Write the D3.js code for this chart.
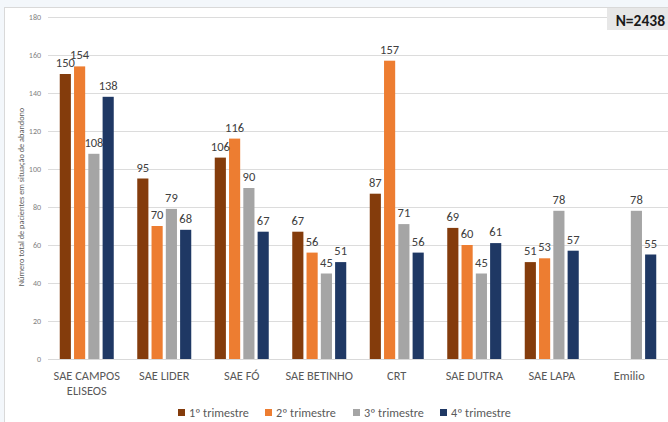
<!DOCTYPE html>
<html><head><meta charset="utf-8">
<script src="https://cdn.jsdelivr.net/npm/d3@7"></script>
<style>
html,body{margin:0;padding:0;background:#f3f7fb;}
svg{display:block;}
</style></head>
<body>
<svg id="chart" width="668" height="422"></svg>
<script>
const categories = [["SAE CAMPOS","ELISEOS"],["SAE LIDER"],["SAE FÓ"],["SAE BETINHO"],["CRT"],["SAE DUTRA"],["SAE LAPA"],["Emilio"]];
const series = ["1º trimestre","2º trimestre","3º trimestre","4º trimestre"];
const q1 = [150, 95, 106, 67, 87, 69, 51, null];
const q2 = [154, 70, 116, 56, 157, 60, 53, null];
const q3 = [108, 79, 90, 45, 71, 45, 78, 78];
const q4 = [138, 68, 67, 51, 56, 61, 57, 55];
const yTicks = [0,20,40,60,80,100,120,140,160,180];
const colors = ["#843C0C","#ED7D31","#A5A5A5","#1F3864"];
const yTitle = "Número total de pacientes em situação de abandono";
const nLabel = "N=2438";

const values = [q1,q2,q3,q4];
const svg = d3.select("#chart");
const font = "Calibri, Carlito, 'Open Sans', 'Noto Sans', sans-serif";

// chart area background
svg.append("rect").attr("x",4.5).attr("y",7.5).attr("width",670).attr("height",420)
  .attr("fill","#ffffff").attr("stroke","#d9d9d9");

const catKeys = categories.map(c=>c.join(" "));
const x0 = d3.scaleBand().domain(catKeys).range([48,668]).padding(0);
const x1 = d3.scaleBand().domain(series).range([11.75, x0.bandwidth()-11.75]).paddingInner(0.22).paddingOuter(0);
const y = d3.scaleLinear().domain([0,180]).range([359,17]);

// gridlines
svg.append("g").selectAll("line").data(yTicks).join("line")
  .attr("x1",48).attr("x2",668)
  .attr("y1",d=>Math.round(y(d))+0.5).attr("y2",d=>Math.round(y(d))+0.5)
  .attr("stroke","#dcdcdc").attr("stroke-width",1);

// y axis labels
const yAxis = d3.axisLeft(y).tickValues(yTicks).tickSize(0).tickPadding(0);
const ya = svg.append("g").attr("transform","translate(41,0)").call(yAxis);
ya.select(".domain").remove();
ya.selectAll("text").attr("font-family",font).attr("font-size",8).attr("fill","#7f7f7f");

// y title
svg.append("text").attr("transform","translate(24,197) rotate(-90)")
  .attr("text-anchor","middle").attr("font-family",font).attr("font-size",8.3)
  .attr("fill","#595959").text(yTitle);

// bars
const groups = svg.append("g").selectAll("g").data(catKeys).join("g")
  .attr("transform",d=>`translate(${x0(d)},0)`);

const bd = (d,i)=>series.map((s,k)=>({s, k, v: values[k][i]})).filter(e=>e.v!=null);
groups.each(function(c,i){
  const g = d3.select(this);
  const data = bd(c,i);
  g.selectAll("rect").data(data).join("rect")
    .attr("x",d=>x1(d.s)).attr("width",x1.bandwidth())
    .attr("y",d=>y(d.v)).attr("height",d=>y(0)-y(d.v))
    .attr("fill",d=>colors[d.k]);
  g.selectAll("text").data(data).join("text")
    .attr("x",d=>x1(d.s)+x1.bandwidth()/2).attr("y",d=>y(d.v)-7)
    .attr("text-anchor","middle").attr("font-family",font).attr("font-size",12.5)
    .attr("fill","#404040").text(d=>d.v);
});

// x axis line
svg.append("line").attr("x1",48).attr("x2",668).attr("y1",359.5).attr("y2",359.5).attr("stroke","#d9d9d9");

// category labels
const cl = svg.append("g").selectAll("text").data(categories).join("text")
  .attr("x",(d,i)=>x0(catKeys[i])+x0.bandwidth()/2).attr("y",380)
  .attr("text-anchor","middle").attr("font-family",font).attr("font-size",12.4).attr("fill","#595959");
cl.each(function(d){
  const t = d3.select(this);
  d.forEach((line,j)=>t.append("tspan").attr("x",t.attr("x")).attr("dy",j===0?0:15).text(line));
});

// legend
const legX = [178,265,353,440];
const leg = svg.append("g").selectAll("g").data(series).join("g")
  .attr("transform",(d,i)=>`translate(${legX[i]},413)`);
leg.append("rect").attr("x",0).attr("y",-4).attr("width",7).attr("height",7).attr("fill",(d,i)=>colors[i]);
leg.append("text").attr("x",11).attr("y",4).attr("font-family",font).attr("font-size",12.2)
  .attr("fill","#595959").text(d=>d);

// N label
svg.append("rect").attr("x",607).attr("y",8).attr("width",61).attr("height",22).attr("fill","#e7e7e7");
svg.append("text").attr("x",665).attr("y",26).attr("text-anchor","end")
  .attr("font-family",font).attr("font-size",15.5).attr("font-weight","bold").attr("fill","#1a1a1a").text(nLabel);
</script>
</body></html>
